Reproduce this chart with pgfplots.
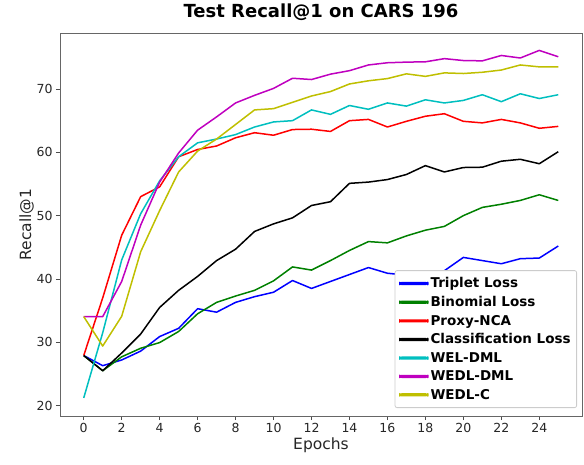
\documentclass[border=0pt]{standalone}
\usepackage{fontspec}
\setmainfont{DejaVu Sans}
\usepackage{pgfplots}
\pgfplotsset{compat=1.18}
\definecolor{mb}{rgb}{0,0,1}
\definecolor{mg}{rgb}{0,0.5,0}
\definecolor{mr}{rgb}{1,0,0}
\definecolor{mk}{rgb}{0,0,0}
\definecolor{mc}{rgb}{0,0.75,0.75}
\definecolor{mm}{rgb}{0.75,0,0.75}
\definecolor{my}{rgb}{0.75,0.75,0}
\begin{document}
\begin{tikzpicture}
\begin{axis}[
  scale only axis,
  width=522pt, height=383pt,
  xmin=-1.25, xmax=26.25,
  ymin=18.35, ymax=78.85,
  xtick={0,2,...,24},
  ytick={20,30,...,70},
  tick align=outside,
  tick pos=left,
  major tick length=4pt,
  axis line style={black!60, line width=0.9pt},
  every tick/.style={black!70, line width=0.8pt},
  /pgf/number format/assume math mode=true,
  tick label style={font=\fontsize{12.5}{15}\selectfont, black!85},
  title={\bfseries Test Recall@1 on CARS 196},
  title style={font=\fontsize{18}{21}\selectfont, at={(0.5,1)}, anchor=south, yshift=3pt},
  xlabel={Epochs},
  ylabel={Recall@1},
  label style={font=\fontsize{15.5}{18}\selectfont, black!85},
  xlabel style={yshift=2pt},
  ylabel style={yshift=-4pt},
  legend style={at={(1,0)}, anchor=south east, xshift=-5pt, yshift=8pt,
    draw=black!20, rounded corners=2pt, line width=0.8pt,
    font=\fontsize{13.5}{16}\selectfont\bfseries,
    row sep=3pt, inner xsep=4pt, inner ysep=5pt},
  legend cell align=left,
  legend image code/.code={\fill[#1] (0pt,-0.85pt) rectangle (28pt,0.85pt);},
  every axis plot/.append style={line width=1.5pt, line join=round},
]
\addplot[mb] coordinates {(0,27.9)(1,26.3)(2,27.2)(3,28.6)(4,30.9)(5,32.2)(6,35.3)(7,34.75)(8,36.3)(9,37.2)(10,37.9)(11,39.75)(12,38.5)(13,39.6)(14,40.7)(15,41.8)(16,40.9)(17,40.6)(18,40.3)(19,41.3)(20,43.4)(21,42.9)(22,42.4)(23,43.2)(24,43.3)(25,45.2)};
\addlegendentry{Triplet Loss}
\addplot[mg] coordinates {(0,27.9)(1,25.5)(2,27.7)(3,29.05)(4,29.95)(5,31.7)(6,34.5)(7,36.3)(8,37.3)(9,38.2)(10,39.7)(11,41.9)(12,41.4)(13,42.9)(14,44.5)(15,45.9)(16,45.7)(17,46.8)(18,47.7)(19,48.3)(20,50.0)(21,51.3)(22,51.8)(23,52.4)(24,53.3)(25,52.4)};
\addlegendentry{Binomial Loss}
\addplot[mr] coordinates {(0,27.9)(1,37.0)(2,46.9)(3,53.0)(4,54.55)(5,59.3)(6,60.45)(7,61.0)(8,62.3)(9,63.1)(10,62.7)(11,63.6)(12,63.65)(13,63.3)(14,65.0)(15,65.2)(16,64.0)(17,64.9)(18,65.7)(19,66.1)(20,64.9)(21,64.65)(22,65.2)(23,64.65)(24,63.8)(25,64.1)};
\addlegendentry{Proxy-NCA}
\addplot[mk] coordinates {(0,27.9)(1,25.5)(2,28.3)(3,31.3)(4,35.5)(5,38.2)(6,40.4)(7,42.9)(8,44.7)(9,47.5)(10,48.7)(11,49.65)(12,51.6)(13,52.2)(14,55.1)(15,55.3)(16,55.7)(17,56.5)(18,57.9)(19,56.9)(20,57.6)(21,57.65)(22,58.6)(23,58.9)(24,58.2)(25,60.1)};
\addlegendentry{Classification Loss}
\addplot[mc] coordinates {(0,21.2)(1,31.5)(2,43.0)(3,50.3)(4,55.5)(5,59.3)(6,61.5)(7,62.1)(8,62.8)(9,64.0)(10,64.8)(11,65.0)(12,66.7)(13,66.0)(14,67.4)(15,66.8)(16,67.8)(17,67.3)(18,68.3)(19,67.8)(20,68.2)(21,69.1)(22,68.0)(23,69.25)(24,68.5)(25,69.1)};
\addlegendentry{WEL-DML}
\addplot[mm] coordinates {(0,34.05)(1,34.05)(2,39.6)(3,48.5)(4,55.3)(5,59.9)(6,63.5)(7,65.6)(8,67.8)(9,69.0)(10,70.1)(11,71.7)(12,71.5)(13,72.35)(14,72.9)(15,73.8)(16,74.15)(17,74.25)(18,74.3)(19,74.8)(20,74.5)(21,74.45)(22,75.3)(23,74.9)(24,76.1)(25,75.1)};
\addlegendentry{WEDL-DML}
\addplot[my] coordinates {(0,34.05)(1,29.4)(2,34.1)(3,44.3)(4,50.8)(5,56.9)(6,60.2)(7,62.1)(8,64.4)(9,66.7)(10,66.9)(11,67.9)(12,68.9)(13,69.6)(14,70.8)(15,71.3)(16,71.65)(17,72.4)(18,72.0)(19,72.55)(20,72.45)(21,72.65)(22,73.0)(23,73.8)(24,73.5)(25,73.5)};
\addlegendentry{WEDL-C}
\end{axis}
\pgfresetboundingbox
\path[use as bounding box] ([xshift=-60pt,yshift=-48pt]current axis.south west) rectangle ([xshift=2pt,yshift=33pt]current axis.north east);
\end{tikzpicture}
\end{document}
